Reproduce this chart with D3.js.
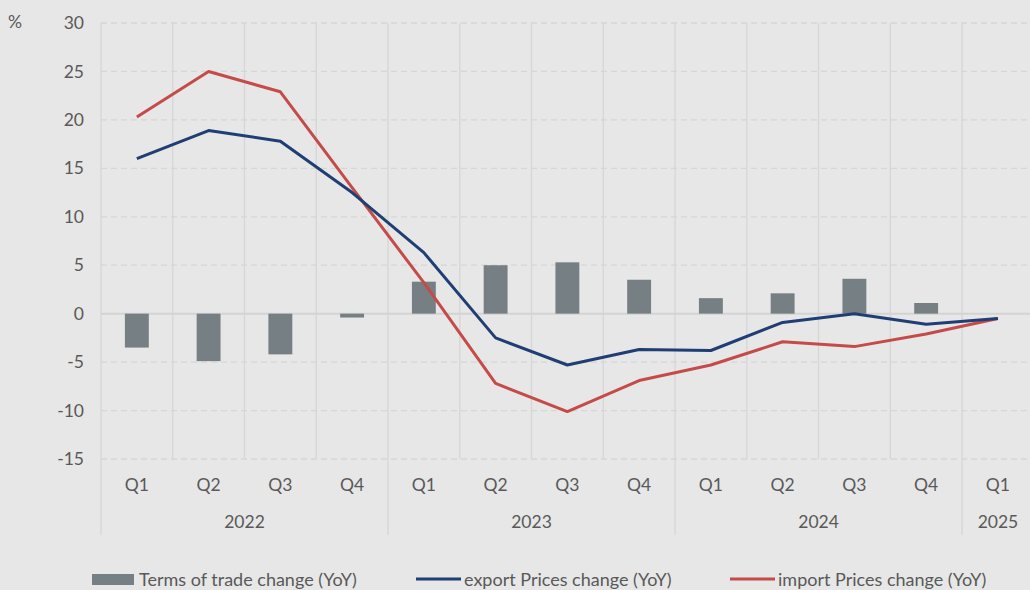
<!DOCTYPE html>
<html><head><meta charset="utf-8">
<script src="https://cdn.jsdelivr.net/npm/d3@7/dist/d3.min.js"></script>
<style>
html,body{margin:0;padding:0;background:#e7e7e7;}
svg{display:block;font-family:Lato,"Open Sans",sans-serif;}
</style></head><body>
<svg id="c" width="1030" height="590"></svg>
<script>
const quarters = ["Q1","Q2","Q3","Q4","Q1","Q2","Q3","Q4","Q1","Q2","Q3","Q4","Q1"];
const years = ["2022","2022","2022","2022","2023","2023","2023","2023","2024","2024","2024","2024","2025"];
const termsOfTrade = [-3.5,-4.9,-4.2,-0.4,3.3,5.0,5.3,3.5,1.6,2.1,3.6,1.1,null];
const exportPrices = [16.0,18.9,17.8,12.5,6.3,-2.5,-5.3,-3.7,-3.8,-0.9,0.0,-1.1,-0.5];
const importPrices = [20.3,25.0,22.9,13.0,3.2,-7.2,-10.1,-6.9,-5.3,-2.9,-3.4,-2.1,-0.5];
const yTicks = [30,25,20,15,10,5,0,-5,-10,-15];
const seriesNames = ["Terms of trade change (YoY)","export Prices change (YoY)","import Prices change (YoY)"];

const svg = d3.select("#c");
const mLeft = 101, mTop = 23, plotBottom = 459;
const fs = 17.5, txt = "#595959";
const idx = d3.range(quarters.length);
const x = d3.scaleBand().domain(idx).range([mLeft, mLeft + 71.75*quarters.length]).paddingInner(0.667).paddingOuter(0.333);
const xc = i => x(i) + x.bandwidth()/2;
const step = x.step();
const y = d3.scaleLinear().domain([-15,30]).range([plotBottom, mTop]);

const gridColor = "#d6d6d6";
svg.append("g").selectAll("line").data(yTicks.filter(d=>d!==0)).join("line")
  .attr("x1", mLeft).attr("x2", 1030).attr("y1", d=>y(d)).attr("y2", d=>y(d))
  .attr("stroke", gridColor).attr("stroke-width",1.3).attr("stroke-dasharray","6,4");
const bounds = d3.range(quarters.length+1).map(i => mLeft + i*step);
svg.append("g").selectAll("line").data(bounds).join("line")
  .attr("x1", d=>d).attr("x2", d=>d).attr("y1", mTop).attr("y2", (d,i)=> (i===0 || (i<quarters.length && years[i]!==years[i-1])) ? 535 : plotBottom)
  .attr("stroke", gridColor).attr("stroke-width",1.3);
svg.append("line").attr("x1", mLeft).attr("x2", 1030).attr("y1", y(0)).attr("y2", y(0))
  .attr("stroke", "#d3d3d3").attr("stroke-width",2);

const yAxis = d3.axisLeft(y).tickValues(yTicks).tickSize(0).tickPadding(0).tickFormat(d => String(d));
const ga = svg.append("g").attr("transform", `translate(84,0)`).call(yAxis);
ga.select(".domain").remove();
ga.selectAll("text").attr("font-size",fs).attr("fill",txt).attr("font-family","Lato,'Open Sans',sans-serif");
svg.append("text").attr("x",8).attr("y",28).attr("font-size",fs).attr("fill",txt).text("%");

svg.append("g").selectAll("rect").data(idx.filter(i=>termsOfTrade[i]!==null)).join("rect")
  .attr("x", i=>x(i)).attr("width", x.bandwidth())
  .attr("y", i=>y(Math.max(0,termsOfTrade[i]))).attr("height", i=>Math.abs(y(termsOfTrade[i])-y(0)))
  .attr("fill","#767f84");

const line = d3.line().x((d,i)=>xc(i)).y(d=>y(d));
svg.append("path").attr("d", line(importPrices)).attr("fill","none").attr("stroke","#c54b49").attr("stroke-width",3).attr("stroke-linejoin","round");
svg.append("path").attr("d", line(exportPrices)).attr("fill","none").attr("stroke","#1f3f74").attr("stroke-width",3).attr("stroke-linejoin","round");

svg.append("g").selectAll("text").data(idx).join("text")
  .attr("x", i=>xc(i)).attr("y", 491).attr("text-anchor","middle")
  .attr("font-size",fs).attr("fill",txt).text(i=>quarters[i]);
const yearGroups = d3.groups(idx, i=>years[i]);
svg.append("g").selectAll("text").data(yearGroups).join("text")
  .attr("x", d=>{ const a=d[1][0], b=d[1][d[1].length-1]; return (mLeft + a*step + mLeft + (b+1)*step)/2; })
  .attr("y", 528).attr("text-anchor","middle")
  .attr("font-size",fs).attr("fill",txt).text(d=>d[0]);

const lg = svg.append("g").attr("font-size",18).attr("fill",txt);
lg.append("rect").attr("x",92).attr("y",574).attr("width",42).attr("height",11).attr("fill","#767f84");
lg.append("text").attr("x",139).attr("y",586).text(seriesNames[0]);
lg.append("line").attr("x1",416).attr("x2",461).attr("y1",579).attr("y2",579).attr("stroke","#1f3f74").attr("stroke-width",3);
lg.append("text").attr("x",464).attr("y",586).text(seriesNames[1]);
lg.append("line").attr("x1",730).attr("x2",775).attr("y1",579).attr("y2",579).attr("stroke","#c54b49").attr("stroke-width",3);
lg.append("text").attr("x",778).attr("y",586).text(seriesNames[2]);
</script>
</body></html>
